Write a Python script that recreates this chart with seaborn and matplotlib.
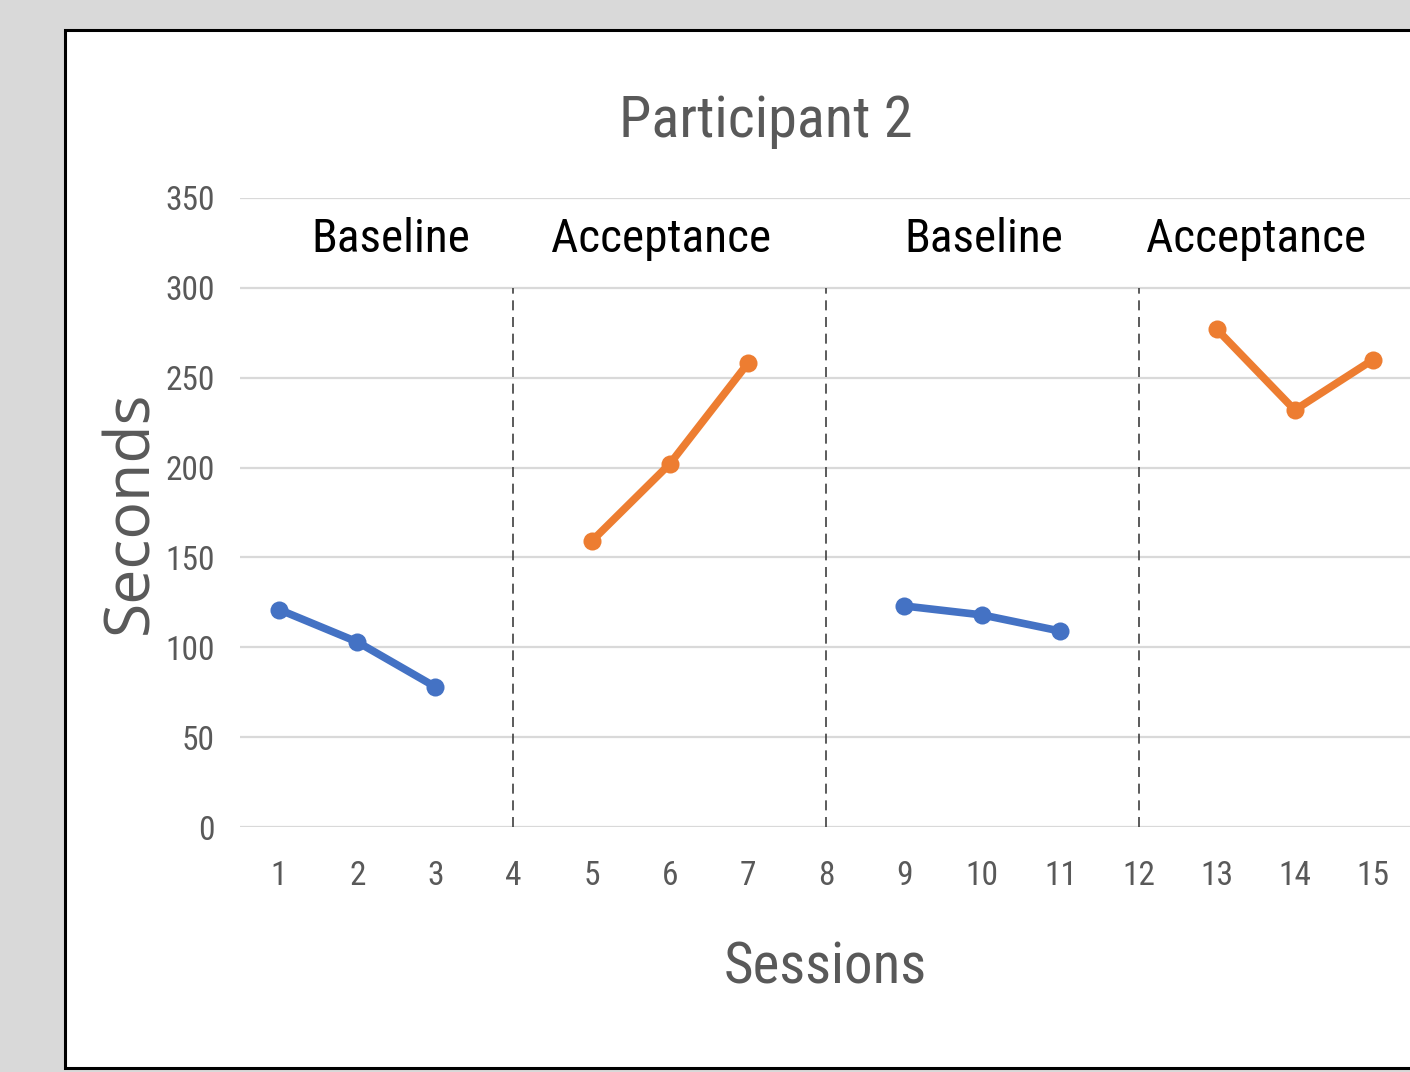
import matplotlib
matplotlib.use("Agg")
import matplotlib.pyplot as plt
from matplotlib.patches import Rectangle
from matplotlib import font_manager
import pandas as pd
import seaborn as sns

# Session data, one list per phase run
sessions = [1, 2, 3, 5, 6, 7, 9, 10, 11, 13, 14, 15]
seconds = [121, 103, 78, 159, 202, 258, 123, 118, 109, 277, 232, 260]
phases = ["Baseline"] * 3 + ["Acceptance"] * 3 + ["Baseline"] * 3 + ["Acceptance"] * 3
segments = [1] * 3 + [2] * 3 + [3] * 3 + [4] * 3

phase_labels = ["Baseline", "Acceptance", "Baseline", "Acceptance"]
phase_label_x = [2.43, 5.89, 10.02, 13.5]
phase_changes = [4, 8, 12]
x_ticks = list(range(1, 16))
y_ticks = [0, 50, 100, 150, 200, 250, 300, 350]

sns.set_theme(style="white")
names = {f.name for f in font_manager.fontManager.ttflist}
narrow_choices = ["Roboto Condensed", "Fira Sans Condensed", "PT Sans Narrow",
                  "Archivo Narrow", "Open Sans Condensed", "Liberation Sans Narrow"]
narrow = next((n for n in narrow_choices if n in names), "DejaVu Sans")
wide = "Open Sans" if "Open Sans" in names else "DejaVu Sans"
plt.rcParams["font.family"] = [narrow, "DejaVu Sans"]

df = pd.DataFrame({"Session": sessions, "Seconds": seconds,
                   "Phase": phases, "Segment": segments})

W, H = 1410, 1072
fig = plt.figure(figsize=(W / 100, H / 100), dpi=100)
fig.patch.set_facecolor("#d9d9d9")

# White chart card with a black frame running off the right edge
fig.patches.append(Rectangle((65 / W, 1 - 1068 / H), 1.2, (1068 - 30) / H,
                             transform=fig.transFigure, facecolor="white",
                             edgecolor="black", linewidth=2.2, zorder=-10))

ax = fig.add_axes([240 / W, 1 - 827 / H, 1172 / W, (827 - 198) / H])
ax.set_facecolor("none")
ax.set_zorder(5)

sns.lineplot(data=df, x="Session", y="Seconds", hue="Phase", units="Segment",
             estimator=None, palette={"Baseline": "#4472C4", "Acceptance": "#ED7D31"},
             marker="o", markersize=13, markeredgewidth=0, linewidth=5.5,
             legend=False, ax=ax, zorder=3)

ax.set_xlim(0.5, 15.5)
ax.set_ylim(0, 350)
ax.set_xticks(x_ticks)
ax.set_yticks(y_ticks)
ax.yaxis.grid(True, color="#d9d9d9", linewidth=1.6)
ax.xaxis.grid(False)
for s in ax.spines.values():
    s.set_visible(False)
ax.tick_params(axis="both", length=0, labelsize=24, labelcolor="#595959")
ax.tick_params(axis="x", pad=24)
ax.tick_params(axis="y", pad=18)

for xc in phase_changes:
    ax.plot([xc, xc], [0, 300], color="#404040", linewidth=1.2,
            linestyle=(0, (6, 4)), zorder=2)

for lbl, xp in zip(phase_labels, phase_label_x):
    ax.text(xp, 327, lbl, ha="center", va="center", fontsize=34, color="black")

ax.set_title("Participant 2", fontsize=42, color="#595959", x=0.449, pad=44)
ax.set_xlabel("Sessions", fontsize=41, color="#595959")
ax.xaxis.set_label_coords(0.499, -0.18)
ax.set_ylabel("Seconds", fontsize=45, color="#595959", family=[wide, "DejaVu Sans"])
ax.yaxis.set_label_coords(-0.066, 0.5)

fig.savefig("out.png", dpi=100, facecolor=fig.get_facecolor())
